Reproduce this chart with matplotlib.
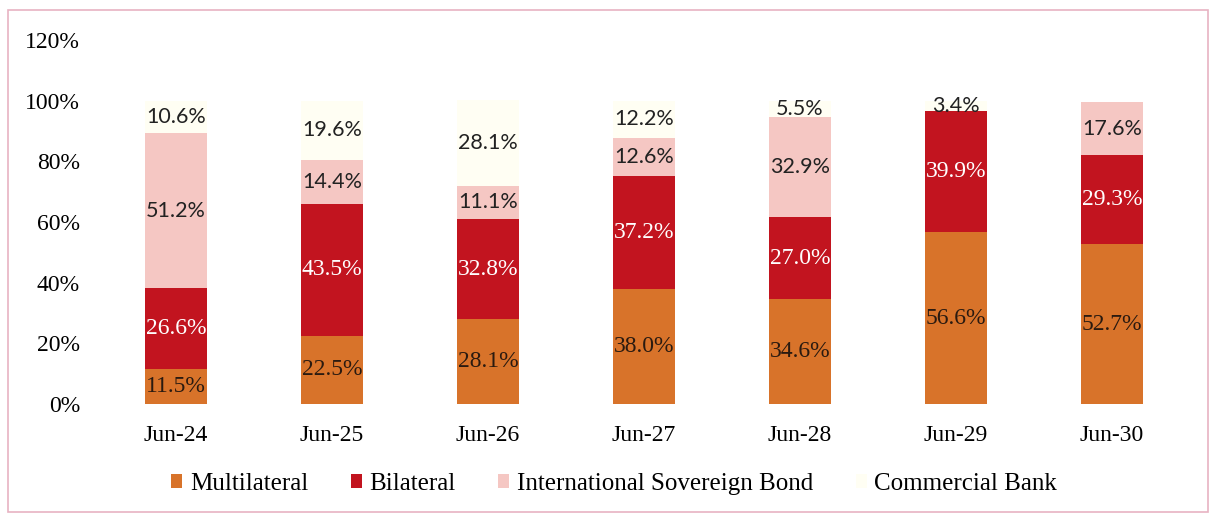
import matplotlib
matplotlib.use("Agg")
import matplotlib.pyplot as plt
from matplotlib.patches import Rectangle, Patch
import numpy as np

categories = ["Jun-24", "Jun-25", "Jun-26", "Jun-27", "Jun-28", "Jun-29", "Jun-30"]
multilateral = [11.5, 22.5, 28.1, 38.0, 34.6, 56.6, 52.7]
bilateral = [26.6, 43.5, 32.8, 37.2, 27.0, 39.9, 29.3]
sovereign_bond = [51.2, 14.4, 11.1, 12.6, 32.9, 0.0, 17.6]
commercial_bank = [10.6, 19.6, 28.1, 12.2, 5.5, 3.4, 0.0]
y_ticks = [0, 20, 40, 60, 80, 100, 120]

# name, values, fill, label colour, label font, label size
series = [
    ("Multilateral", multilateral, "#D8732A", "#2a1a10", "Liberation Serif", 17),
    ("Bilateral", bilateral, "#C2141F", "white", "Liberation Serif", 17),
    ("International Sovereign Bond", sovereign_bond, "#F5C7C3", "#222222", "Lato", 15.5),
    ("Commercial Bank", commercial_bank, "#FFFEF3", "#222222", "Lato", 15.5),
]

fig = plt.figure(figsize=(12.17, 5.16), dpi=100)
ax = fig.add_axes([98 / 1217, 112 / 516, 1092 / 1217, 364 / 516])

x = np.arange(len(categories))
bottom = np.zeros(len(categories))
handles = []
for name, vals, color, tcolor, fam, fs in series:
    vals = np.array(vals)
    ax.bar(x, vals, 0.4, bottom=bottom, color=color, linewidth=0)
    for xi, v, b in zip(x, vals, bottom):
        if v > 0:
            ax.text(xi, b + v / 2, f"{v:.1f}%", ha="center", va="center",
                    color=tcolor, fontsize=fs, family=fam)
    bottom += vals
    handles.append(Patch(facecolor=color, edgecolor="none", label=name))

ax.set_xlim(-0.5, 6.5)
ax.set_ylim(0, 120)
ax.set_yticks(y_ticks)
ax.set_yticklabels([f"{t}%" for t in y_ticks], family="Liberation Serif", fontsize=17)
ax.set_xticks(x)
ax.set_xticklabels(categories, family="Liberation Serif", fontsize=17)
ax.tick_params(length=0)
ax.tick_params(axis="x", pad=15)
ax.tick_params(axis="y", pad=13)
for s in ax.spines.values():
    s.set_visible(False)

fig.legend(handles=handles, loc="center", bbox_to_anchor=(614 / 1217, 1 - 484 / 516),
           ncol=4, frameon=False, prop={"family": "Liberation Serif", "size": 18},
           handlelength=0.45, handleheight=0.45, handletextpad=0.3, columnspacing=1.7)

fig.patches.append(Rectangle((8 / 1217, 4 / 516), 1200 / 1217, 502 / 516,
                             transform=fig.transFigure, fill=False,
                             edgecolor="#E7B3C2", linewidth=1.2))

fig.savefig("out.png", dpi=100)
